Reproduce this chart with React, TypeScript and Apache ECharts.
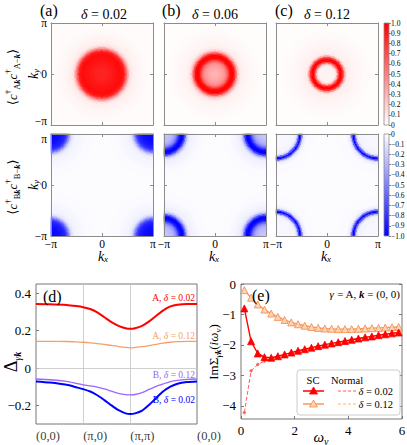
import React, { useEffect, useRef } from "react";
import * as echarts from "echarts";

// ---------- heatmap panels: radial profiles (value vs radius, step 0.1 rad)
const CELLS = 102;
const PROFILE_STEP = 0.1;
// top row: radius measured from (0,0)
const TOP_A_PROFILE = [0.86, 0.86, 0.86, 0.87, 0.87, 0.88, 0.89, 0.9, 0.91, 0.92, 0.93, 0.94, 0.94, 0.92, 0.85, 0.62, 0.38, 0.18, 0.1, 0.07, 0.06, 0.05, 0.045, 0.04, 0.035, 0.03, 0.025, 0.02, 0.02, 0.015, 0.015];
const TOP_B_PROFILE = [0.3, 0.3, 0.31, 0.33, 0.35, 0.38, 0.42, 0.5, 0.65, 0.85, 0.96, 0.98, 0.9, 0.62, 0.3, 0.14, 0.08, 0.06, 0.05, 0.045, 0.04, 0.035, 0.03, 0.03, 0.025, 0.02, 0.02, 0.015, 0.015, 0.01, 0.01];
const TOP_C_PROFILE = [0.05, 0.05, 0.05, 0.05, 0.05, 0.07, 0.2, 0.6, 0.95, 1.0, 0.8, 0.35, 0.1, 0.07, 0.06, 0.05, 0.05, 0.045, 0.04, 0.035, 0.03, 0.03, 0.025, 0.02, 0.02, 0.02, 0.015, 0.015, 0.01, 0.01, 0.01];
// bottom row: radius measured from the nearest corner (±π,±π)
const BOT_A_PROFILE = [-0.97, -0.97, -0.96, -0.96, -0.95, -0.94, -0.92, -0.9, -0.87, -0.82, -0.7, -0.48, -0.25, -0.12, -0.07, -0.05, -0.045, -0.04, -0.035, -0.03, -0.03, -0.025, -0.02, -0.02, -0.02, -0.015, -0.015, -0.01, -0.01, -0.01, -0.01];
const BOT_B_PROFILE = [-0.22, -0.22, -0.23, -0.24, -0.26, -0.28, -0.32, -0.4, -0.55, -0.75, -0.92, -1.0, -0.95, -0.7, -0.35, -0.15, -0.08, -0.06, -0.05, -0.04, -0.035, -0.03, -0.025, -0.02, -0.02, -0.015, -0.015, -0.01, -0.01, -0.01, -0.01];
const BOT_C_PROFILE = [-0.03, -0.03, -0.03, -0.03, -0.03, -0.03, -0.03, -0.03, -0.03, -0.035, -0.04, -0.045, -0.06, -0.15, -0.6, -1.0, -0.55, -0.12, -0.05, -0.03, -0.02, -0.02, -0.02, -0.015, -0.015, -0.01, -0.01, -0.01, -0.01, -0.01, -0.01];

const PANEL_TAGS = ["(a)", "(b)", "(c)"];
const PANEL_DELTAS = ["0.02", "0.06", "0.12"];
const PI_LABELS = ["−π", "0", "π"];

// ---------- panel (d): gap along the path (0,0)->(π,0)->(π,π)->(0,0)
const D_PATH_TICKS = [0, 1, 2, 2 + Math.SQRT2];
const D_PATH_LABELS = ["(0,0)", "(π,0)", "(π,π)", "(0,0)"];
const D_Y_MIN = -0.3;
const D_Y_MAX = 0.45;
const D_Y_TICKS = [0.4, 0.2, 0, -0.2];
const D_X = [0, 0.3, 0.65, 0.85, 1.0, 1.15, 1.3, 1.45, 1.6, 1.75, 1.9, 2.0, 2.1, 2.25, 2.4, 2.55, 2.7, 2.85, 3.0, 3.2, 3.414];
const D_A_002 = [0.343, 0.342, 0.338, 0.332, 0.326, 0.316, 0.298, 0.272, 0.246, 0.226, 0.213, 0.21, 0.213, 0.226, 0.25, 0.28, 0.309, 0.33, 0.339, 0.343, 0.343];
const D_A_012 = [0.143, 0.143, 0.142, 0.14, 0.138, 0.135, 0.131, 0.126, 0.121, 0.115, 0.11, 0.108, 0.11, 0.114, 0.12, 0.127, 0.133, 0.138, 0.141, 0.143, 0.143];
const D_B_012 = [-0.059, -0.063, -0.072, -0.082, -0.09, -0.096, -0.102, -0.112, -0.124, -0.136, -0.143, -0.144, -0.142, -0.132, -0.115, -0.098, -0.085, -0.073, -0.066, -0.061, -0.059];
const D_B_002 = [-0.072, -0.078, -0.09, -0.103, -0.113, -0.126, -0.146, -0.172, -0.2, -0.226, -0.243, -0.247, -0.243, -0.228, -0.197, -0.16, -0.125, -0.1, -0.084, -0.075, -0.072];

// ---------- panel (e): Im Σ vs Matsubara frequency
const E_OMEGA = [0.125, 0.375, 0.625, 0.875, 1.125, 1.375, 1.625, 1.875, 2.125, 2.375, 2.625, 2.875, 3.125, 3.375, 3.625, 3.875, 4.125, 4.375, 4.625, 4.875, 5.125, 5.375, 5.625, 5.875];
const E_SC_002 = [-0.8, -1.88, -2.28, -2.4, -2.42, -2.37, -2.31, -2.25, -2.19, -2.14, -2.09, -2.04, -1.99, -1.95, -1.91, -1.87, -1.83, -1.79, -1.75, -1.72, -1.68, -1.65, -1.62, -1.59];
const E_SC_012 = [-0.2, -0.45, -0.67, -0.84, -0.97, -1.08, -1.18, -1.26, -1.32, -1.37, -1.41, -1.44, -1.46, -1.47, -1.48, -1.48, -1.48, -1.47, -1.46, -1.45, -1.44, -1.43, -1.42, -1.41];
const E_N_002 = [-4.22, -2.85, -2.64, -2.53, -2.46, -2.39, -2.33, -2.26, -2.2, -2.15, -2.1, -2.05, -2.0, -1.95, -1.91, -1.87, -1.83, -1.79, -1.75, -1.72, -1.68, -1.65, -1.62, -1.59];
const E_N_012 = [-0.22, -0.46, -0.68, -0.85, -0.98, -1.09, -1.19, -1.27, -1.33, -1.38, -1.42, -1.45, -1.47, -1.48, -1.49, -1.49, -1.49, -1.48, -1.47, -1.46, -1.45, -1.44, -1.43, -1.42];
const E_Y_TICKS = [0, -1, -2, -3, -4];

const FONT = "'Liberation Serif', 'DejaVu Serif', serif";
const FRAME = "#8c8c8c";
const RED = "#ff0000";
const ORANGE = "#f5a06a";
const PURPLE = "#9a66ff";
const BLUE = "#0000ff";

const minus = (s: string) => s.replace("-", "−");

function buildField(profile: number[], fromCorner: boolean) {
  const out: number[][] = [];
  const step = (2 * Math.PI) / CELLS;
  for (let i = 0; i < CELLS; i++) {
    const kx = -Math.PI + (i + 0.5) * step;
    for (let j = 0; j < CELLS; j++) {
      const ky = -Math.PI + (j + 0.5) * step;
      const r = fromCorner
        ? Math.hypot(Math.PI - Math.abs(kx), Math.PI - Math.abs(ky))
        : Math.hypot(kx, ky);
      const idx = Math.min(profile.length - 1, Math.round(r / PROFILE_STEP));
      out.push([i, j, profile[idx]]);
    }
  }
  return out;
}

const rs = (size: number, extra: any = {}) => ({ fontFamily: FONT, fontSize: size, fill: "#000", ...extra });

function txt(x: number, y: number, text: string, size: number, opts: any = {}) {
  const align = opts.align || "center";
  return {
    type: "text",
    x,
    y,
    rotation: opts.rotation || 0,
    z: 100,
    silent: true,
    style: {
      text,
      fontFamily: FONT,
      fontSize: size,
      fill: opts.fill || "#000",
      align,
      textAlign: align,
      verticalAlign: "middle",
      textVerticalAlign: "middle",
      rich: opts.rich,
    },
  };
}

function buildOption() {
  const grids: any[] = [];
  const xAxes: any[] = [];
  const yAxes: any[] = [];
  const series: any[] = [];
  const cellIndex = Array.from({ length: CELLS }, (_, i) => i);
  const heatPanels = [
    { profile: TOP_A_PROFILE, corner: false },
    { profile: TOP_B_PROFILE, corner: false },
    { profile: TOP_C_PROFILE, corner: false },
    { profile: BOT_A_PROFILE, corner: true },
    { profile: BOT_B_PROFILE, corner: true },
    { profile: BOT_C_PROFILE, corner: true },
  ];
  const heatLeft = [51, 164, 276];
  const heatTop = [23, 134];

  const heatValueAxis = (g: number, pos: string, showLabel: boolean, row: number) => ({
    type: "value",
    gridIndex: g,
    position: pos,
    min: -1,
    max: 1,
    interval: 1,
    z: 10,
    axisLine: { show: true, onZero: false, lineStyle: { color: FRAME, width: 1 } },
    axisTick: { show: true, inside: true, length: 3, lineStyle: { color: FRAME } },
    axisLabel: {
      show: showLabel,
      formatter: (v: number) => PI_LABELS[Math.round(v) + 1],
      color: "#000",
      fontFamily: FONT,
      fontSize: 11.5,
      lineHeight: 9,
      margin: pos === "left" ? 4 : 3,
      showMinLabel: true,
      showMaxLabel: true,
      verticalAlignMinLabel: pos === "left" && row === 0 ? "bottom" : undefined,
      verticalAlignMaxLabel: pos === "left" && row === 1 ? "top" : undefined,
    },
    splitLine: { show: false },
  });

  heatPanels.forEach((p, g) => {
    const row = g < 3 ? 0 : 1;
    const col = g % 3;
    grids.push({ left: heatLeft[col], top: heatTop[row], width: 102, height: 102, outerBoundsMode: "none" });
    xAxes.push(heatValueAxis(g, "bottom", row === 1, row));
    xAxes.push(heatValueAxis(g, "top", false, row));
    const xi = xAxes.length;
    xAxes.push({ type: "category", gridIndex: g, data: cellIndex, show: false });
    yAxes.push(heatValueAxis(g, "left", col === 0, row));
    yAxes.push(heatValueAxis(g, "right", false, row));
    const yi = yAxes.length;
    yAxes.push({ type: "category", gridIndex: g, data: cellIndex, show: false });
    series.push({
      type: "heatmap",
      xAxisIndex: xi,
      yAxisIndex: yi,
      data: buildField(p.profile, p.corner),
      progressive: 0,
      silent: true,
      emphasis: { disabled: true },
      itemStyle: { borderWidth: 0 },
    });
  });

  // colour bars (grids 6, 7)
  const bars = [
    { top: 23, min: 0, max: 1, stops: ["#ff0000", "#ffffff"] },
    { top: 134, min: -1, max: 0, stops: ["#ffffff", "#0000ff"] },
  ];
  bars.forEach((b) => {
    const g = grids.length;
    grids.push({
      left: 384,
      top: b.top,
      width: 5,
      height: 102,
      show: true,
      outerBoundsMode: "none",
      borderColor: FRAME,
      borderWidth: 0.8,
      backgroundColor: new echarts.graphic.LinearGradient(0, 0, 0, 1, [
        { offset: 0, color: b.stops[0] },
        { offset: 1, color: b.stops[1] },
      ]),
    });
    xAxes.push({ type: "value", gridIndex: g, show: false, min: 0, max: 1 });
    yAxes.push({
      type: "value",
      gridIndex: g,
      position: "right",
      min: b.min,
      max: b.max,
      interval: 0.1,
      axisLine: { show: false, onZero: false },
      axisTick: { show: true, length: 2, lineStyle: { color: "#666", width: 0.8 } },
      axisLabel: {
        fontFamily: FONT,
        fontSize: 7.5,
        color: "#000",
        margin: 2,
        showMinLabel: true,
        showMaxLabel: true,
        formatter: (v: number) => (Math.abs(v) < 1e-9 ? "0" : minus(v.toFixed(1))),
      },
      splitLine: { show: false },
    });
  });

  // panel (d) grid 8
  const gD = grids.length;
  grids.push({ left: 36, top: 284, width: 161, height: 140, show: true, borderColor: "#777", borderWidth: 1, outerBoundsMode: "none" });
  const xD = xAxes.length;
  xAxes.push({
    type: "value",
    gridIndex: gD,
    min: 0,
    max: 2 + Math.SQRT2,
    axisLine: { show: false, onZero: false },
    axisTick: { show: false },
    axisLabel: { show: false },
    splitLine: { show: false },
  });
  const yD = yAxes.length;
  yAxes.push({
    type: "value",
    gridIndex: gD,
    min: D_Y_MIN,
    max: D_Y_MAX,
    axisLine: { show: false, onZero: false },
    axisTick: { show: true, inside: true, length: 3, customValues: D_Y_TICKS, lineStyle: { color: "#777" } },
    axisLabel: {
      customValues: D_Y_TICKS,
      fontFamily: FONT,
      fontSize: 13,
      color: "#000",
      margin: 5,
      formatter: (v: number) => (Math.abs(v) < 1e-9 ? "0" : minus(String(v))),
    },
    splitLine: { show: false },
  });
  const dCurves = [
    { data: D_A_002, color: RED, width: 2 },
    { data: D_A_012, color: ORANGE, width: 1.3 },
    { data: D_B_012, color: PURPLE, width: 1.3 },
    { data: D_B_002, color: BLUE, width: 2 },
  ];
  dCurves.forEach((c, k) => {
    series.push({
      type: "line",
      xAxisIndex: xD,
      yAxisIndex: yD,
      data: D_X.map((x, i) => [x, c.data[i]]),
      smooth: 0.25,
      symbol: "none",
      showSymbol: false,
      silent: true,
      z: 3,
      lineStyle: { color: c.color, width: c.width },
      markLine:
        k === 0
          ? {
              silent: true,
              symbol: ["none", "none"],
              label: { show: false },
              z: 1,
              lineStyle: { color: "#c4c4c4", width: 0.8, type: "solid" },
              data: [{ xAxis: D_PATH_TICKS[1] }, { xAxis: D_PATH_TICKS[2] }, { yAxis: 0 }],
            }
          : undefined,
    });
  });
  // path tick labels of (d), placed through the axis scale
  series.push({
    type: "scatter",
    xAxisIndex: xD,
    yAxisIndex: yD,
    silent: true,
    clip: false,
    symbolSize: 0,
    data: D_PATH_TICKS.map((t, i) => ({
      value: [t, D_Y_MIN],
      name: D_PATH_LABELS[i],
      label: i === 0 ? { offset: [8, 0] } : undefined,
    })),
    label: {
      show: true,
      position: "bottom",
      distance: 5,
      align: "left",
      offset: [-12, 0],
      formatter: "{b}",
      fontFamily: FONT,
      fontSize: 12.5,
      color: "#000",
    },
    labelLayout: { hideOverlap: false },
  });

  // panel (e) grid 9
  const gE = grids.length;
  grids.push({ left: 241, top: 284, width: 161, height: 135, show: true, borderColor: "#777", borderWidth: 1, outerBoundsMode: "none" });
  const xE = xAxes.length;
  xAxes.push({
    type: "value",
    gridIndex: gE,
    min: 0,
    max: 6,
    interval: 2,
    axisLine: { show: false, onZero: false },
    axisTick: { show: true, inside: true, length: 3, lineStyle: { color: "#777" } },
    axisLabel: { fontFamily: FONT, fontSize: 13, color: "#000", margin: 5, showMinLabel: true, showMaxLabel: true },
    splitLine: { show: false },
  });
  const yE = yAxes.length;
  const eY = (pos: string, labels: boolean) => ({
    type: "value",
    gridIndex: gE,
    position: pos,
    min: -4.43,
    max: 0,
    axisLine: { show: false, onZero: false },
    axisTick: { show: true, inside: true, length: 3, customValues: E_Y_TICKS, lineStyle: { color: "#777" } },
    axisLabel: {
      show: labels,
      customValues: E_Y_TICKS,
      fontFamily: FONT,
      fontSize: 13,
      color: "#000",
      margin: 5,
      formatter: (v: number) => (Math.abs(v) < 1e-9 ? "0" : minus(String(v))),
    },
    splitLine: { show: false },
  });
  yAxes.push(eY("left", true));
  yAxes.push(eY("right", false));
  const eSeries = [
    { data: E_N_012, line: "#ffb27a", width: 1, dash: "dashed", symbol: "circle", size: 2, fill: "#ffb27a", border: "#ffb27a" },
    { data: E_N_002, line: "#ff5a5a", width: 1, dash: "dashed", symbol: "circle", size: 2.5, fill: "#ff5a5a", border: "#ff5a5a" },
    { data: E_SC_012, line: "#f59a5e", width: 1.3, dash: "solid", symbol: "triangle", size: 7, fill: "#ffd3b4", border: "#f08a4a" },
    { data: E_SC_002, line: RED, width: 1.4, dash: "solid", symbol: "triangle", size: 7, fill: RED, border: RED },
  ];
  eSeries.forEach((s, k) => {
    series.push({
      type: "line",
      xAxisIndex: xE,
      yAxisIndex: yE,
      data: E_OMEGA.map((w, i) => [w, s.data[i]]),
      symbol: s.symbol,
      symbolSize: s.size,
      showSymbol: true,
      silent: true,
      z: 3 + k,
      lineStyle: { color: s.line, width: s.width, type: s.dash },
      itemStyle: { color: s.fill, borderColor: s.border, borderWidth: 0.8 },
    });
  });

  // ---------- texts / decorations
  const sub = (size: number, extra: any = {}) => rs(size, { verticalAlign: "bottom", lineHeight: size, ...extra });
  const sup = (size: number, extra: any = {}) => rs(size, { verticalAlign: "top", lineHeight: size, ...extra });
  const graphic: any[] = [];
  const titleCenters = [104, 215, 327];
  const tagX = [40, 162, 275];
  for (let c = 0; c < 3; c++) {
    graphic.push(txt(tagX[c], 10, PANEL_TAGS[c], 16, { align: "left" }));
    graphic.push(
      txt(titleCenters[c], 14, `{i|δ}{n| = ${PANEL_DELTAS[c]}}`, 14, {
        rich: { i: rs(14, { fontStyle: "italic" }), n: rs(14) },
      })
    );
    graphic.push(
      txt(titleCenters[c] - 1, 256, "{i|k}{s|x}", 14, {
        rich: { i: rs(14, { fontStyle: "italic", lineHeight: 15 }), s: sub(9, { fontStyle: "italic" }) },
      })
    );
  }
  const kyRich = { i: rs(14, { fontStyle: "italic", lineHeight: 15 }), s: sub(9, { fontStyle: "italic" }) };
  graphic.push(txt(33, 74, "{i|k}{s|y}", 14, { rotation: Math.PI / 2, rich: kyRich }));
  graphic.push(txt(33, 185, "{i|k}{s|y}", 14, { rotation: Math.PI / 2, rich: kyRich }));
  const corrRich = {
    n: rs(13, { lineHeight: 18 }),
    c: rs(13, { fontStyle: "italic", lineHeight: 18 }),
    p: sup(9),
    s: sub(8.5),
    b: sub(8.5, { fontWeight: "bold", fontStyle: "italic" }),
  };
  graphic.push(txt(12, 77, "{n|⟨}{c|c}{p|†}{s|A}{b|k}{c|c}{p|†}{s|A−}{b|k}{n|⟩}", 13, { rotation: Math.PI / 2, rich: corrRich }));
  graphic.push(txt(12, 187, "{n|⟨}{c|c}{p|†}{s|B}{b|k}{c|c}{p|†}{s|B−}{b|k}{n|⟩}", 13, { rotation: Math.PI / 2, rich: corrRich }));

  // (d)
  graphic.push(txt(43, 296, "(d)", 16, { align: "left" }));
  graphic.push(
    txt(11, 362, "{n|Δ}{s|γ}{b|k}", 18, {
      rotation: Math.PI / 2,
      rich: { n: rs(18, { lineHeight: 22 }), s: sub(10, { fontStyle: "italic" }), b: sub(10, { fontWeight: "bold", fontStyle: "italic" }) },
    })
  );
  const dLabels = [
    { y: 298, tag: "A", d: "0.02", color: RED },
    { y: 336, tag: "A", d: "0.12", color: ORANGE },
    { y: 375, tag: "B", d: "0.12", color: PURPLE },
    { y: 400, tag: "B", d: "0.02", color: BLUE },
  ];
  dLabels.forEach((l) => {
    graphic.push(
      txt(195, l.y, `{n|${l.tag}, }{i|δ}{n| = ${l.d}}`, 9.5, {
        align: "right",
        fill: l.color,
        rich: { n: rs(9.5, { fill: l.color }), i: rs(9.5, { fill: l.color, fontStyle: "italic" }) },
      })
    );
  });

  // (e)
  graphic.push(txt(252, 295, "(e)", 16, { align: "left" }));
  graphic.push(
    txt(400, 294, "{i|γ}{n| = A, }{b|k}{n| = (0, 0)}", 11, {
      align: "right",
      rich: { i: rs(11, { fontStyle: "italic" }), n: rs(11), b: rs(11, { fontWeight: "bold", fontStyle: "italic" }) },
    })
  );
  graphic.push(
    txt(213, 352, "{n|ImΣ}{s|γ}{b|k}{n|(}{i|iω}{s|ν}{n|)}", 13, {
      rotation: Math.PI / 2,
      rich: {
        n: rs(13, { lineHeight: 18 }),
        i: rs(13, { fontStyle: "italic", lineHeight: 18 }),
        s: sub(9, { fontStyle: "italic" }),
        b: sub(9, { fontWeight: "bold", fontStyle: "italic" }),
      },
    })
  );
  graphic.push(
    txt(321, 437, "{i|ω}{s|ν}", 15, {
      rich: { i: rs(15, { fontStyle: "italic", lineHeight: 18 }), s: sub(10, { fontStyle: "italic" }) },
    })
  );
  // legend box of (e)
  graphic.push({
    type: "rect",
    z: 90,
    silent: true,
    shape: { x: 297, y: 370, width: 103, height: 45, r: 3 },
    style: { fill: "rgba(255,255,255,0.92)", stroke: "#cccccc", lineWidth: 1 },
  });
  graphic.push(txt(313, 380, "SC", 10.5));
  graphic.push(txt(347, 380, "Normal", 10.5));
  const legRows = [
    { y: 391, solid: RED, fill: RED, edge: RED, dash: "#ff5a5a", d: "0.02" },
    { y: 404, solid: "#f59a5e", fill: "#ffd3b4", edge: "#f08a4a", dash: "#ffb27a", d: "0.12" },
  ];
  legRows.forEach((r) => {
    graphic.push({ type: "line", z: 100, silent: true, shape: { x1: 303, y1: r.y, x2: 324, y2: r.y }, style: { stroke: r.solid, lineWidth: 1.5 } });
    graphic.push({
      type: "polygon",
      z: 101,
      silent: true,
      shape: { points: [[313.5, r.y - 4], [309.5, r.y + 3], [317.5, r.y + 3]] },
      style: { fill: r.fill, stroke: r.edge, lineWidth: 0.8 },
    });
    graphic.push({ type: "line", z: 100, silent: true, shape: { x1: 338, y1: r.y, x2: 357, y2: r.y }, style: { stroke: r.dash, lineWidth: 1, lineDash: [3, 2] } });
    graphic.push(
      txt(393, r.y, `{i|δ}{n| = ${r.d}}`, 10.5, {
        align: "right",
        rich: { i: rs(10.5, { fontStyle: "italic" }), n: rs(10.5) },
      })
    );
  });

  return {
    animation: false,
    backgroundColor: "#ffffff",
    textStyle: { fontFamily: FONT },
    grid: grids,
    xAxis: xAxes,
    yAxis: yAxes,
    visualMap: [
      { type: "continuous", show: false, min: 0, max: 1, dimension: 2, seriesIndex: [0, 1, 2], inRange: { color: ["#ffffff", "#ff0000"] } },
      { type: "continuous", show: false, min: -1, max: 0, dimension: 2, seriesIndex: [3, 4, 5], inRange: { color: ["#0000ff", "#ffffff"] } },
    ],
    series,
    graphic: { elements: graphic },
  };
}

export default function App() {
  const ref = useRef<HTMLDivElement>(null);
  useEffect(() => {
    const chart = echarts.init(ref.current!, null, { renderer: "svg" });
    chart.setOption(buildOption() as any);
    return () => chart.dispose();
  }, []);
  return (
    <div
      ref={ref}
      style={{ position: "fixed", left: 0, top: 0, width: 407, height: 445, background: "#fff" }}
    />
  );
}
